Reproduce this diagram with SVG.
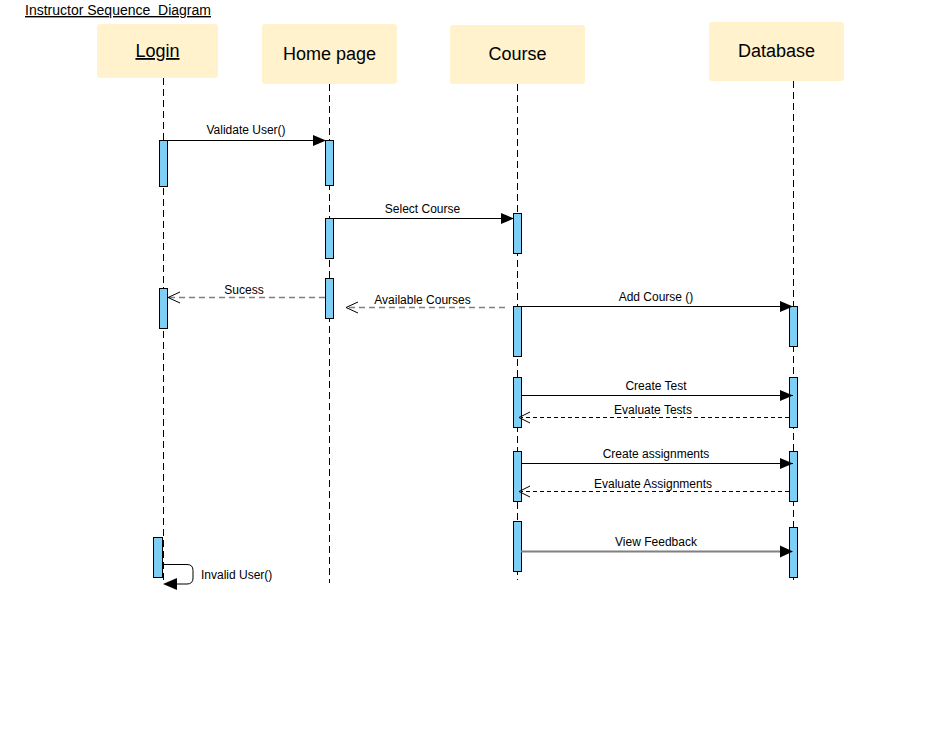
<svg xmlns="http://www.w3.org/2000/svg" width="944" height="741" viewBox="0 0 944 741">
<style>
text{font-family:"Liberation Sans",Arial,sans-serif;fill:#000}
.hdr{fill:#fff2cc}
.ht{font-size:18px;text-anchor:middle}
.lbl{font-size:12px;text-anchor:middle}
.life{stroke:#000;stroke-width:1;stroke-dasharray:7 4;fill:none}
.bar{fill:#7dcff5;stroke:#000;stroke-width:1}
.msg{stroke:#000;stroke-width:1;fill:none}
.ret{stroke:#000;stroke-width:1;stroke-dasharray:4 3;fill:none}
.gret{stroke:#808080;stroke-width:1.5;stroke-dasharray:6 4;fill:none}
.gmsg{stroke:#808080;stroke-width:2;fill:none}
.open{stroke:#000;stroke-width:1;fill:none}
</style>
<defs>
<marker id="fill" viewBox="0 0 13 11" refX="13" refY="5.5" markerWidth="13" markerHeight="11" markerUnits="userSpaceOnUse" orient="auto">
<path d="M0,0 L13,5.5 L0,11 Z" fill="#000"/>
</marker>
</defs>
<rect width="944" height="741" fill="#fff"/>
<text x="25" y="15" xml:space="preserve" style="font-size:14px;text-decoration:underline;white-space:pre">Instructor Sequence  Diagram</text>

<g id="lifelines">
<line class="life" x1="163.5" y1="78" x2="163.5" y2="583"/>
<line class="life" x1="329.5" y1="84" x2="329.5" y2="583"/>
<line class="life" x1="517.5" y1="84" x2="517.5" y2="580"/>
<line class="life" x1="793.5" y1="81" x2="793.5" y2="580"/>
</g>

<g id="node-login">
<rect class="hdr" x="97" y="24" width="121" height="54" rx="3"/>
<text class="ht" x="157.5" y="57" style="text-decoration:underline">Login</text>
</g>
<g id="node-home">
<rect class="hdr" x="262" y="24" width="135" height="60" rx="3"/>
<text class="ht" x="329.5" y="60">Home page</text>
</g>
<g id="node-course">
<rect class="hdr" x="450" y="25" width="135" height="59" rx="3"/>
<text class="ht" x="517.5" y="60">Course</text>
</g>
<g id="node-database">
<rect class="hdr" x="709" y="22" width="135" height="59" rx="3"/>
<text class="ht" x="776.5" y="57">Database</text>
</g>

<g id="activations">
<rect class="bar" x="159.5" y="140.5" width="8" height="46"/>
<rect class="bar" x="325.5" y="140.5" width="8" height="45"/>
<rect class="bar" x="325.5" y="218.5" width="8" height="40"/>
<rect class="bar" x="513.5" y="213.5" width="8" height="40"/>
<rect class="bar" x="325.5" y="278.5" width="8" height="40"/>
<rect class="bar" x="159.5" y="288.5" width="8" height="40"/>
<rect class="bar" x="513.5" y="306.5" width="8" height="50"/>
<rect class="bar" x="789.5" y="306.5" width="8" height="40"/>
<rect class="bar" x="513.5" y="377.5" width="8" height="50"/>
<rect class="bar" x="789.5" y="377.5" width="8" height="50"/>
<rect class="bar" x="513.5" y="451.5" width="8" height="50"/>
<rect class="bar" x="789.5" y="451.5" width="8" height="50"/>
<rect class="bar" x="513.5" y="521.5" width="8" height="50"/>
<rect class="bar" x="789.5" y="527.5" width="8" height="50"/>
<rect class="bar" x="153.5" y="537.5" width="9" height="40"/>
</g>

<g id="connectors">
<line class="msg" x1="167" y1="140.5" x2="326" y2="140.5" marker-end="url(#fill)"/>
<text class="lbl" x="246" y="134">Validate User()</text>

<line class="msg" x1="333" y1="218.5" x2="514" y2="218.5" marker-end="url(#fill)"/>
<text class="lbl" x="422.5" y="213">Select Course</text>

<line class="gret" x1="325" y1="297.5" x2="169" y2="297.5"/>
<path class="open" d="M180,292 L168,297.5 L180,303"/>
<text class="lbl" x="244" y="294">Sucess</text>

<line class="gret" x1="505" y1="307.5" x2="347" y2="307.5"/>
<path class="open" d="M358,302 L346,307.5 L358,313"/>
<text class="lbl" x="422.5" y="304">Available Courses</text>

<line class="msg" x1="521" y1="306.5" x2="793" y2="306.5" marker-end="url(#fill)"/>
<text class="lbl" x="656" y="301">Add Course ()</text>

<line class="msg" x1="521" y1="395.5" x2="793" y2="395.5" marker-end="url(#fill)"/>
<text class="lbl" x="656" y="390">Create Test</text>

<line class="ret" x1="789" y1="417.5" x2="522" y2="417.5"/>
<path class="open" d="M530,412 L519,417.5 L530,423"/>
<text class="lbl" x="653" y="414">Evaluate Tests</text>

<line class="msg" x1="521" y1="463.5" x2="793" y2="463.5" marker-end="url(#fill)"/>
<text class="lbl" x="656" y="458">Create assignments</text>

<line class="ret" x1="789" y1="491.5" x2="522" y2="491.5"/>
<path class="open" d="M530,486 L519,491.5 L530,497"/>
<text class="lbl" x="653" y="488">Evaluate Assignments</text>

<line class="gmsg" x1="521" y1="551.5" x2="783" y2="551.5"/>
<path d="M780,545.5 L793,551.5 L780,557.5 Z" fill="#000"/>
<text class="lbl" x="656" y="546">View Feedback</text>

<path class="msg" d="M162,564.5 L187,564.5 Q193,564.5 193,570.5 L193,578 Q193,584 187,584 L175,584"/>
<path d="M177,578 L163,584 L177,590 Z" fill="#000"/>
<text x="201" y="579" style="font-size:12px">Invalid User()</text>
</g>
</svg>
